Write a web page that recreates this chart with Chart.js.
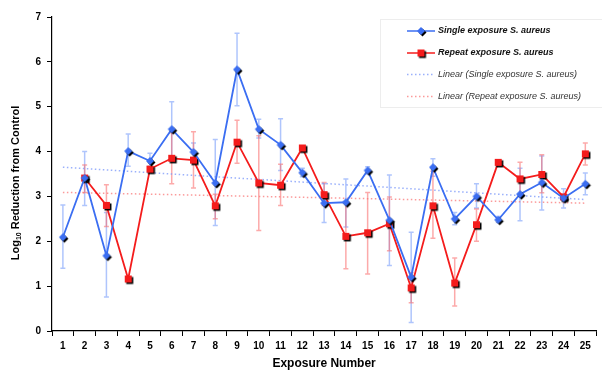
<!DOCTYPE html>
<html>
<head>
<meta charset="utf-8">
<script src="https://cdn.jsdelivr.net/npm/chart.js@4.4.1/dist/chart.umd.min.js"></script>
<style>
    html, body { margin: 0; padding: 0; background: #fff; }
    #wrap { position: relative; width: 602px; height: 371px; }
</style>
</head>
<body>
<div id="wrap"><canvas id="chart" width="602" height="371"></canvas></div>
<script>

// exposure numbers
const exposures = ["1","2","3","4","5","6","7","8","9","10","11","12","13","14","15","16","17","18","19","20","21","22","23","24","25"];

// single exposure S. aureus
const singleVals = [2.09, 3.41, 1.68, 4.01, 3.79, 4.50, 3.99, 3.30, 5.83, 4.50, 4.15, 3.53, 2.85, 2.87, 3.58, 2.47, 1.20, 3.65, 2.50, 3.00, 2.48, 3.05, 3.31, 2.96, 3.28];
const singleHi   = [2.81, 4.00, 2.64, 4.39, 3.96, 5.11, 4.19, 4.27, 6.64, 4.72, 4.73, 3.63, 3.28, 3.39, 3.66, 3.48, 2.20, 3.84, 2.64, 3.28, 2.55, 3.63, 3.90, 3.17, 3.52];
const singleLo   = [1.40, 2.80, 0.76, 3.67, 3.67, 3.90, 3.81, 2.35, 5.02, 4.30, 3.58, 3.44, 2.42, 2.32, 3.50, 1.46, 0.19, 3.45, 2.37, 2.74, 2.42, 2.46, 2.70, 2.74, 3.04];

// repeat exposure S. aureus (no value at exposure 1)
const repeatVals = [null, 3.41, 2.80, 1.16, 3.61, 3.85, 3.81, 2.79, 4.21, 3.30, 3.25, 4.08, 3.04, 2.11, 2.19, 2.39, 0.96, 2.79, 1.07, 2.37, 3.76, 3.39, 3.49, 2.99, 3.95];
const repeatHi   = [null, 3.70, 3.26, null, null, 4.42, 4.44, 3.05, 4.70, 4.35, 3.72, null, 3.31, 2.85, 3.09, 2.99, 1.30, 3.56, 1.63, 2.72, null, 3.76, 3.93, null, 4.19];
const repeatLo   = [null, 3.09, 2.33, null, null, 3.28, 3.19, 2.50, 3.74, 2.24, 2.80, null, 2.80, 1.39, 1.27, 1.79, 0.63, 2.07, 0.56, 2.00, null, 3.00, 3.08, null, 3.70];

// linear trend end points (exposure 1 and 25)
const singleTrend = [3.65, 2.93];
const repeatTrend = [3.09, 2.85];

const yTicks = [0, 1, 2, 3, 4, 5, 6, 7];

const BLUE = "#3b6ef2";
const RED = "#f41c1c";
const FONT = "'Liberation Sans', Arial, sans-serif";

/* MARKERS */
function makeMarker(shape, color, size){
    let s = size + 6;
    let c = document.createElement("canvas");
    c.width = s; c.height = s;
    let ctx = c.getContext("2d");
    function shapeAt(cx, cy){
        ctx.beginPath();
        if(shape === "diamond"){
            ctx.moveTo(cx, cy - size/2);
            ctx.lineTo(cx + size/2, cy);
            ctx.lineTo(cx, cy + size/2);
            ctx.lineTo(cx - size/2, cy);
        } else {
            ctx.rect(cx - size/2, cy - size/2, size, size);
        }
        ctx.closePath();
        ctx.fill();
    }
    ctx.fillStyle = "#000";
    shapeAt(s/2 + 1.5, s/2 + 1.5);
    ctx.fillStyle = color;
    shapeAt(s/2, s/2);
    return c;
}

const blueMarker = makeMarker("diamond", BLUE, 8);
const redMarker = makeMarker("square", RED, 7);

/* ERROR BARS */
const errorBars = {
    id: "errorBars",
    beforeDatasetsDraw(chart){
        let ctx = chart.ctx;
        let x = chart.scales.x, y = chart.scales.y;
        let sets = [
            {hi: singleHi, lo: singleLo, color: "rgba(110,150,250,0.55)"},
            {hi: repeatHi, lo: repeatLo, color: "rgba(250,100,100,0.55)"}
        ];
        ctx.save();
        ctx.lineWidth = 1.5;
        sets.forEach(s => {
            ctx.strokeStyle = s.color;
            s.hi.forEach((h, i) => {
                if(h === null) return;
                let px = x.getPixelForValue(i);
                let top = y.getPixelForValue(h);
                let bot = y.getPixelForValue(s.lo[i]);
                ctx.beginPath();
                ctx.moveTo(px, top); ctx.lineTo(px, bot);
                ctx.moveTo(px - 2.5, top); ctx.lineTo(px + 2.5, top);
                ctx.moveTo(px - 2.5, bot); ctx.lineTo(px + 2.5, bot);
                ctx.stroke();
            });
        });
        ctx.restore();
    }
};

/* Y TITLE with subscript */
const yTitle = {
    id: "yTitle",
    afterDraw(chart){
        let ctx = chart.ctx;
        ctx.save();
        ctx.translate(16, 183);
        ctx.rotate(-Math.PI/2);
        ctx.fillStyle = "#000";
        ctx.textBaseline = "middle";
        let big = "bold 11px " + FONT, small = "bold 7px " + FONT;
        ctx.font = big;
        let w1 = ctx.measureText("Log").width;
        let w3 = ctx.measureText(" Reduction from Control").width;
        ctx.font = small;
        let w2 = ctx.measureText("10").width;
        let x0 = -(w1 + w2 + w3) / 2;
        ctx.font = big;
        ctx.fillText("Log", x0, 0);
        ctx.font = small;
        ctx.fillText("10", x0 + w1, 3);
        ctx.font = big;
        ctx.fillText(" Reduction from Control", x0 + w1 + w2, 0);
        ctx.restore();
    }
};

/* LEGEND */
const legendBox = {
    id: "legendBox",
    afterDraw(chart){
        let ctx = chart.ctx;
        ctx.save();
        ctx.strokeStyle = "rgba(0,0,0,0.07)";
        ctx.lineWidth = 1;
        ctx.strokeRect(380.5, 19.5, 222, 88);

        let items = [
            {text: "Single exposure S. aureus", color: BLUE, dash: [], marker: blueMarker, bold: true},
            {text: "Repeat exposure S. aureus", color: RED, dash: [], marker: redMarker, bold: true},
            {text: "Linear (Single exposure S. aureus)", color: "rgba(120,150,250,0.75)", dash: [1.5, 2.5], marker: null, bold: false},
            {text: "Linear (Repeat exposure S. aureus)", color: "rgba(250,120,120,0.75)", dash: [1.5, 2.5], marker: null, bold: false}
        ];
        let rows = [31, 53, 74.5, 96.5];
        items.forEach((it, i) => {
            let yy = rows[i];
            ctx.strokeStyle = it.color;
            ctx.lineWidth = it.marker ? 1.5 : 1.3;
            ctx.setLineDash(it.dash);
            ctx.beginPath();
            ctx.moveTo(407, yy); ctx.lineTo(435, yy);
            ctx.stroke();
            ctx.setLineDash([]);
            if(it.marker){
                ctx.drawImage(it.marker, 421 - it.marker.width/2, yy - it.marker.height/2);
            }
            ctx.fillStyle = it.bold ? "#111" : "#333";
            ctx.font = (it.bold ? "italic bold " : "italic ") + "9px " + FONT;
            ctx.textBaseline = "middle";
            ctx.fillText(it.text, 438, yy);
        });
        ctx.restore();
    }
};

new Chart(document.getElementById("chart"), {
    type: "line",
    data: {
        labels: exposures,
        datasets: [
            {
                label: "Single exposure S. aureus",
                data: singleVals,
                borderColor: BLUE,
                borderWidth: 1.8,
                pointStyle: blueMarker,
                tension: 0
            },
            {
                label: "Repeat exposure S. aureus",
                data: repeatVals,
                borderColor: RED,
                borderWidth: 1.8,
                pointStyle: redMarker,
                tension: 0
            },
            {
                label: "Linear (Single exposure S. aureus)",
                data: [{x: exposures[0], y: singleTrend[0]}, {x: exposures[24], y: singleTrend[1]}],
                borderColor: "rgba(120,150,250,0.75)",
                borderWidth: 1.5,
                borderDash: [1.5, 2.5],
                pointRadius: 0,
                order: 5
            },
            {
                label: "Linear (Repeat exposure S. aureus)",
                data: [{x: exposures[0], y: repeatTrend[0]}, {x: exposures[24], y: repeatTrend[1]}],
                borderColor: "rgba(250,120,120,0.75)",
                borderWidth: 1.5,
                borderDash: [1.5, 2.5],
                pointRadius: 0,
                order: 5
            }
        ]
    },
    options: {
        responsive: false,
        animation: false,
        layout: { padding: { top: 17, right: 0, left: 0, bottom: 0 } },
        plugins: {
            legend: { display: false },
            tooltip: { enabled: false }
        },
        scales: {
            x: {
                offset: true,
                grid: { offset: true, drawOnChartArea: false, drawTicks: true, tickLength: 5, color: "#000" },
                border: { display: true, color: "#000", width: 1.2 },
                ticks: { color: "#000", font: { family: FONT, size: 10, weight: "bold" }, padding: 4, maxRotation: 0, autoSkip: false },
                title: { display: true, text: "Exposure Number", color: "#000", font: { family: FONT, size: 12, weight: "bold" }, padding: { top: 0, bottom: 0 } },
                afterFit(scale){ scale.height = 40; }
            },
            y: {
                min: 0,
                max: 7,
                afterBuildTicks(scale){ scale.ticks = yTicks.map(v => ({value: v})); },
                grid: { drawOnChartArea: false, drawTicks: true, tickLength: 5, color: "#000" },
                border: { display: true, color: "#000", width: 1.2 },
                ticks: { color: "#000", font: { family: FONT, size: 10, weight: "bold" }, padding: 6 },
                afterFit(scale){ scale.width = 52; }
            }
        }
    },
    plugins: [errorBars, yTitle, legendBox]
});

</script>
</body>
</html>
